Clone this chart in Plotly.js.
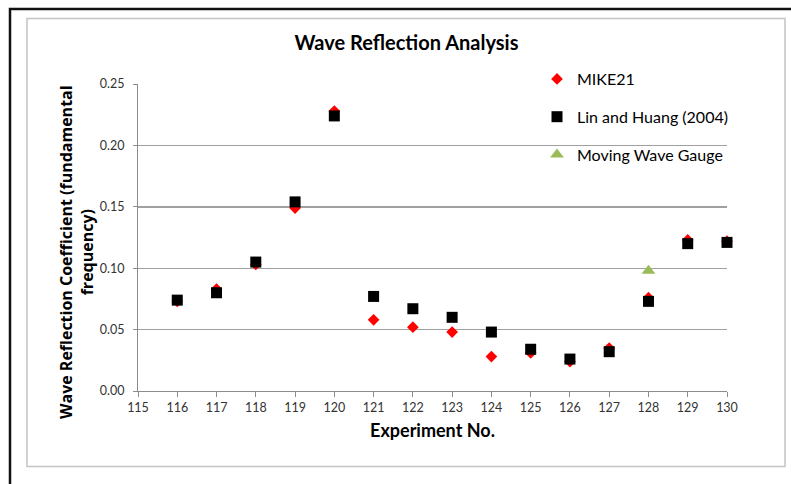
<!DOCTYPE html>
<html>
<head>
<meta charset="utf-8">
<script src="https://cdn.plot.ly/plotly-3.0.1.min.js"></script>
<style>
  html, body { margin: 0; padding: 0; background: #fff; }
  #chart { width: 791px; height: 484px; }
</style>
</head>
<body>
<div id="chart"></div>
<script>
// ---- data ----
const experiments = [116, 117, 118, 119, 120, 121, 122, 123, 124, 125, 126, 127, 128, 129, 130];
const mike21 = [0.073, 0.083, 0.103, 0.149, 0.228, 0.058, 0.052, 0.048, 0.028, 0.031, 0.024, 0.035, 0.076, 0.123, 0.122];
const linHuang = [0.074, 0.080, 0.105, 0.154, 0.224, 0.077, 0.067, 0.060, 0.048, 0.034, 0.026, 0.032, 0.073, 0.120, 0.121];
const movingX = [128];
const movingY = [0.098];
const seriesNames = ["MIKE21", "Lin and Huang (2004)", "Moving Wave Gauge"];
const xTicks = [115, 116, 117, 118, 119, 120, 121, 122, 123, 124, 125, 126, 127, 128, 129, 130];
const yTicks = [0, 0.05, 0.10, 0.15, 0.20, 0.25];

// ---- layout geometry (pixels) ----
const W = 791, H = 484;
const L = 138, R = 727, T = 84, B = 391;
const pw = R - L, ph = B - T;
const px = v => (v - L) / pw;
const py = v => (B - v) / ph;

const traces = [
  {
    x: experiments, y: mike21, name: seriesNames[0], type: "scatter", mode: "markers",
    legendgroup: "a", cliponaxis: false,
    marker: { symbol: "diamond", size: 9, color: "#ff0000" }
  },
  {
    x: experiments, y: linHuang, name: seriesNames[1], type: "scatter", mode: "markers",
    legendgroup: "b", cliponaxis: false,
    marker: { symbol: "square", size: 11, color: "#000000" }
  },
  {
    x: movingX, y: movingY, name: seriesNames[2], type: "scatter", mode: "markers",
    legendgroup: "c", cliponaxis: false,
    marker: { symbol: "triangle-up", size: 12, color: "#9bbb59" }
  }
];

const layout = {
  width: W, height: H,
  margin: { l: L, r: W - R, t: T, b: H - B, pad: 0 },
  paper_bgcolor: "#ffffff",
  plot_bgcolor: "rgba(0,0,0,0)",
  font: { family: "Lato, 'Liberation Sans', sans-serif", color: "#000" },
  title: {
    text: "<b>Wave Reflection Analysis</b>",
    font: { family: "Lato", size: 20, color: "#000" },
    xref: "paper", x: px(406.5), xanchor: "center",
    yref: "container", y: 1 - 43 / H, yanchor: "middle"
  },
  xaxis: {
    range: [115, 130],
    tickmode: "array", tickvals: xTicks, ticktext: xTicks.map(String),
    showgrid: false, zeroline: false,
    showline: true, linecolor: "#8c8c8c", linewidth: 1,
    ticks: "outside", ticklen: 5, tickcolor: "#8c8c8c", tickwidth: 1,
    tickfont: { family: "Lato", size: 12.5, color: "#333" },
    title: { text: "<b>Experiment No.</b>", font: { family: "Lato", size: 18, color: "#000" }, standoff: 10 },
    automargin: false, fixedrange: true
  },
  yaxis: {
    range: [0, 0.25],
    tickmode: "array", tickvals: yTicks, ticktext: yTicks.map(v => v.toFixed(2)),
    showgrid: true, gridcolor: "#a0a0a0", gridwidth: 1.4,
    zeroline: false,
    showline: true, linecolor: "#8c8c8c", linewidth: 1,
    ticks: "outside", ticklen: 4, tickcolor: "#8c8c8c",
    ticklabelstandoff: 6,
    tickfont: { family: "Lato", size: 12.5, color: "#333" },
    automargin: false, fixedrange: true
  },
  showlegend: true,
  legend: {
    x: px(537), xanchor: "left",
    y: py(62), yanchor: "top",
    bgcolor: "rgba(0,0,0,0)", borderwidth: 0,
    traceorder: "grouped", tracegroupgap: 14,
    font: { family: "Lato", size: 16, color: "#000" },
    itemclick: false, itemdoubleclick: false
  },
  annotations: [
    {
      text: "<b>Wave Reflection Coefficient (fundamental<br>frequency)</b>",
      xref: "paper", yref: "paper",
      x: px(76), y: py(252), xanchor: "center", yanchor: "middle",
      textangle: -90, showarrow: false,
      font: { family: "Open Sans", size: 16, color: "#000" }
    }
  ],
  shapes: [
    {
      type: "path", xref: "paper", yref: "paper", layer: "below",
      path: `M ${px(10)} ${py(500)} L ${px(10)} ${py(9)} L ${px(800)} ${py(9)}`,
      line: { color: "#111", width: 2.5 }
    },
    {
      type: "rect", xref: "paper", yref: "paper", layer: "below",
      x0: px(27), x1: px(785), y0: py(18.5), y1: py(466.5),
      line: { color: "#c4c4c4", width: 1.5 }, fillcolor: "rgba(0,0,0,0)"
    }
  ]
};

Plotly.newPlot("chart", traces, layout, { displayModeBar: false, staticPlot: true });
</script>
</body>
</html>
